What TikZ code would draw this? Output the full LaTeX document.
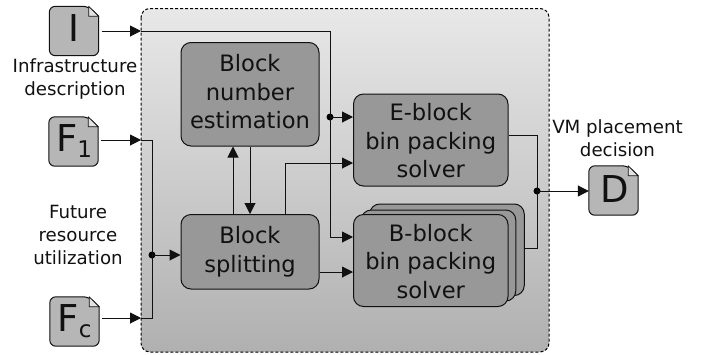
\documentclass[tikz,border=0pt]{standalone}
\usepackage{fontspec}
\setmainfont{DejaVu Sans}
\usetikzlibrary{arrows.meta}
\definecolor{blockgray}{HTML}{989898}
\definecolor{docgray}{HTML}{B6B6B6}
\definecolor{foldgray}{HTML}{E2E2E2}
\definecolor{inkgray}{HTML}{111111}
\tikzset{
  x=1pt,y=-1pt,
  proc/.style={draw=inkgray,line width=1pt,fill=blockgray,rounded corners=10pt,align=center,text=inkgray,inner sep=0pt,
    font=\fontsize{22.6}{28.5}\selectfont},
  docnode/.style={minimum width=49pt,minimum height=49pt,inner sep=0pt,text=inkgray},
  label/.style={align=center,text=inkgray,font=\fontsize{18.2}{23}\selectfont},
  wire/.style={draw=inkgray,line width=1pt},
  arrowwire/.style={wire,-{Triangle[length=11pt,width=11pt]}},
  junction/.style={circle,fill=black,minimum size=7pt,inner sep=0pt},
}
\newcommand{\docletter}[2]{{\fontsize{37}{37}\selectfont #1\raisebox{-6pt}{\fontsize{23}{23}\selectfont #2}}}
\newcommand{\docshape}[1]{%
  \draw[draw=inkgray,line width=1pt,fill=docgray,rounded corners=6pt]
    (#1.south west) -- (#1.north west) -- ([xshift=-10pt]#1.north east)
    {[sharp corners] -- ([yshift=-10pt]#1.north east)} -- (#1.south east) -- cycle;
  \draw[draw=inkgray,line width=.8pt,fill=foldgray,line join=round]
    ([xshift=-10pt]#1.north east) -- ([xshift=-10pt,yshift=-10pt]#1.north east) -- ([yshift=-10pt]#1.north east) -- cycle;
}
\begin{document}
\begin{tikzpicture}
\useasboundingbox (0,0) rectangle (711,354);
% container
\path[top color=black!9,bottom color=black!31,rounded corners=9pt] (141,8.5) rectangle (549,352);
\draw[black,line width=1pt,dashed,dash pattern=on 3pt off 2pt,rounded corners=9pt] (141,8.5) rectangle (549,352);
% documents
\node[docnode] (docI) at (74,31) {};
\node[docnode] (docF) at (73.5,141.5) {};
\node[docnode] (docC) at (74.5,321.5) {};
\node[docnode] (docD) at (613.5,190.5) {};
\docshape{docI}\docshape{docF}\docshape{docC}\docshape{docD}
\node[docnode] at (docI) {\docletter{I}{}};
\node[docnode] at (74,141.5) {\docletter{F}{1}};
\node[docnode] at (74.5,321.5) {\docletter{F}{c}};
\node[docnode] at (615,192.5) {\docletter{D}{}};
% labels
\node[label] (linfra) at (75,78.5) {Infrastructure\\description};
\node[label] (lfut) at (78,235) {Future\\resource\\utilization};
\node[label] (lvm) at (617.5,138) {VM placement\\decision};
% blocks
\node[proc,minimum width=138pt,minimum height=103.5pt] (num) at (250,94.25) {};
\node[proc,draw=none,fill=none] (numtext) at (250,92) {Block\\number\\estimation};
\node[proc,minimum width=138pt,minimum height=74.5pt] (split) at (250,251.75) {Block\\splitting};
\node[proc,minimum width=154.5pt,minimum height=92pt] (eblock) at (430.75,140) {};
\node[proc,draw=none,fill=none] (etext) at (430.75,141) {E-block\\bin packing\\solver};
\node[proc,minimum width=154.5pt,minimum height=91.5pt] (back) at (447,249.75) {};
\node[proc,minimum width=154.5pt,minimum height=91pt] (mid) at (438.5,255.5) {};
\node[proc,minimum width=154.5pt,minimum height=92pt] (bblock) at (430.75,260.5) {};
\node[proc,draw=none,fill=none] (btext) at (430.75,261.5) {B-block\\bin packing\\solver};
% junctions
\node[junction] (j1) at (330,117) {};
\node[junction] (j2) at (152,255) {};
\node[junction] (j3) at (537,191) {};
% free bends
\coordinate (cI) at (330,31);
\coordinate (cIentry) at (141,31);
\coordinate (cF) at (152,140);
\coordinate (cFentry) at (141,140);
\coordinate (cC) at (152,318);
\coordinate (cCentry) at (141,318);
% connectors
\draw[wire] (cIentry) -- (cI) -- (j1.center);
\draw[arrowwire] ([xshift=3pt]docI.east |- cI) -- (cIentry);
\draw[arrowwire] (j1.center) |- (bblock.west |- 0,237);
\draw[arrowwire] (j1.center) -- (eblock.west |- j1);
\draw[arrowwire] ([xshift=3pt]docF.east |- cF) -- (cFentry);
\draw[wire] (cFentry) -- (cF) -- (cC) -- (cCentry);
\draw[arrowwire] ([xshift=3pt]docC.east |- cC) -- (cCentry);
\draw[arrowwire] (j2.center) -- (split.west |- j2);
\draw[arrowwire] (split.north -| 233,0) -- (num.south -| 233,0);
\draw[arrowwire] (num.south) -- (split.north);
\draw[arrowwire] (split.north -| 285,0) |- (eblock.west |- 0,163);
\draw[arrowwire] (split.east |- 0,272) -- (bblock.west |- 0,272);
\draw[wire] (eblock.east |- 0,135) -| (j3.center);
\draw[wire] (back.east |- 0,248) -| (j3.center);
\draw[arrowwire] (j3.center) -- (docD.west |- j3);
\end{tikzpicture}
\end{document}
